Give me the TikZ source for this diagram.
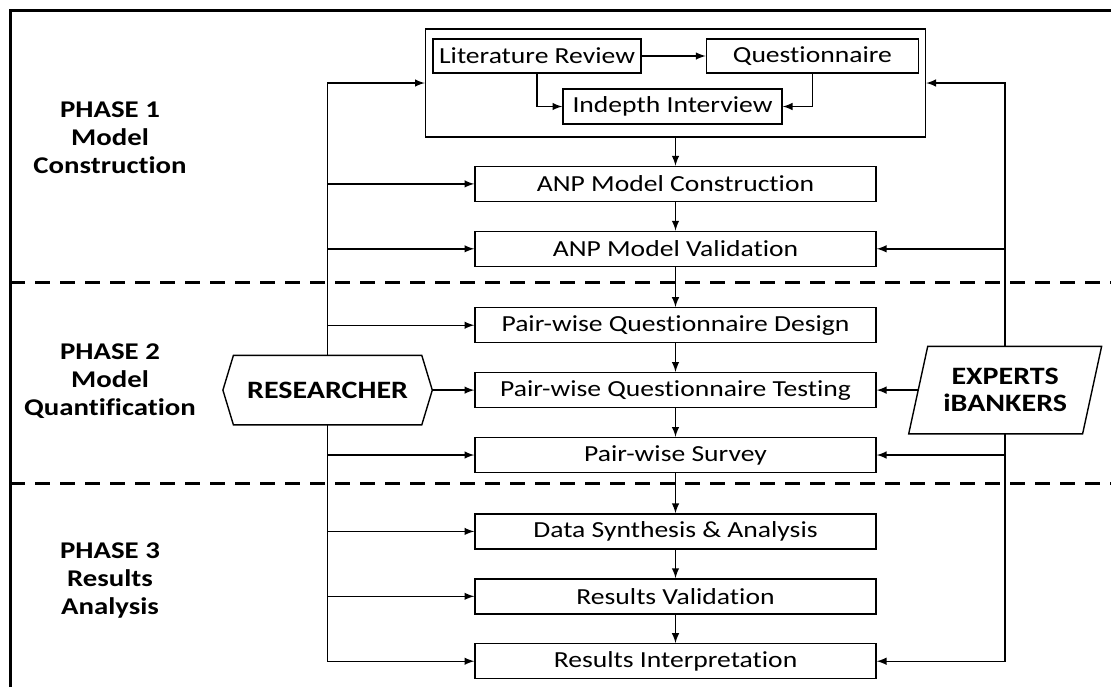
\documentclass[tikz,border=0pt]{standalone}
\usepackage{fontspec}
\setmainfont{Carlito}[FakeStretch=1.2, Ligatures=NoCommon]
\usetikzlibrary{
  positioning,
}

\begin{document}
\begin{tikzpicture}[
    x=0.5pt, y=-0.5pt,
    >=latex,
    line width=0.7pt,
    font=\fontsize{11.5}{13.8}\selectfont,
    stage/.style={draw, minimum width=200.5pt, minimum height=17.5pt, inner sep=0pt},
    sub/.style={draw, minimum height=17pt, inner sep=0pt},
    actor/.style={inner sep=0pt, align=center, font=\fontsize{12.5}{13.5}\selectfont\bfseries},
    phase/.style={align=center, font=\fontsize{12}{14}\selectfont\bfseries},
    divider/.style={line width=1.5pt, dash pattern=on 7.5pt off 5pt},
  ]
      \useasboundingbox (0,0) rectangle (1111,687);
      \draw [line width=1.5pt] (10,687) -- (10,10) -- (1111,10);

      % phase 1
      \node [draw, minimum width=250pt, minimum height=54pt] (group) at (675.5,83) {};
      \node [sub, minimum width=104pt] (lit) at (537,56) {Literature Review};
      \node [sub, minimum width=106pt, right=32pt of lit] (quest) {Questionnaire};
      \node [sub, minimum width=109.5pt, minimum height=17.5pt] (interview) at (672.5,106.5) {Indepth Interview};
      \node [stage, below=14pt of group] (construct) {ANP Model Construction};
      \node [stage, below=14.25pt of construct] (validate) {ANP Model Validation};

      % phase 2
      \node [stage, below=20pt of validate] (design) {Pair-wise Questionnaire Design};
      \node [stage, below=14.25pt of design] (testing) {Pair-wise Questionnaire Testing};
      \node [stage, below=14.25pt of testing] (survey) {Pair-wise Survey};

      % phase 3
      \node [stage, below=20pt of survey] (synth) {Data Synthesis \& Analysis};
      \node [stage, below=14.25pt of synth] (results) {Results Validation};
      \node [stage, below=14.25pt of results] (interp) {Results Interpretation};

      \node [phase] (p1) at (110,138) {PHASE 1\\Model\\Construction};
      \node [phase] (p2) at (110,381) {PHASE 2\\Model\\Quantification};
      \node [phase] (p3) at (110,580) {PHASE 3\\Results\\Analysis};

      % actors
      \node [actor, minimum width=104pt, minimum height=34pt, left=21pt of testing] (researcher) {RESEARCHER};
      \draw (researcher.west) -- ([xshift=5.25pt]researcher.north west) -- ([xshift=-5.25pt]researcher.north east)
        -- (researcher.east) -- ([xshift=-5.25pt]researcher.south east) -- ([xshift=5.25pt]researcher.south west) -- cycle;
      \node [actor, minimum width=86.25pt, minimum height=43pt, right=20.75pt of testing] (experts) {EXPERTS\\iBANKERS};
      \draw ([xshift=4.75pt]experts.north west) -- ([xshift=4.75pt]experts.north east)
        -- ([xshift=-4.75pt]experts.south east) -- ([xshift=-4.75pt]experts.south west) -- cycle;

      \draw [divider] (10,282) -- (1111,282);
      \draw [divider] (10,483) -- (1111,483);

      % inside the first box
      \draw [->] (lit) to (quest);
      \draw [->] (lit.south) |- (interview.west);
      \draw [->] (quest.south) |- (interview.east);

      % main chain
      \draw [->] (group) to (construct);
      \draw [->] (construct) to (validate);
      \draw [->] (validate) to (design);
      \draw [->] (design) to (testing);
      \draw [->] (testing) to (survey);
      \draw [->] (survey) to (synth);
      \draw [->] (synth) to (results);
      \draw [->] (results) to (interp);

      % researcher feeds every step
      \draw [->] (researcher.north) |- (group.west);
      \draw [->] (researcher.north) |- (construct.west);
      \draw [->] (researcher.north) |- (validate.west);
      \draw [->] (researcher.north) |- (design.west);
      \draw [->] (researcher) to (testing);
      \draw [->] (researcher.south) |- (survey.west);
      \draw [->] (researcher.south) |- (synth.west);
      \draw [->] (researcher.south) |- (results.west);
      \draw [->] (researcher.south) |- (interp.west);

      % experts
      \draw [->] (experts.north) |- (group.east);
      \draw [->] (experts.north) |- (validate.east);
      \draw [->] (experts) to (testing);
      \draw [->] (experts.south) |- (survey.east);
      \draw [->] (experts.south) |- (interp.east);
    \end{tikzpicture}
\end{document}
